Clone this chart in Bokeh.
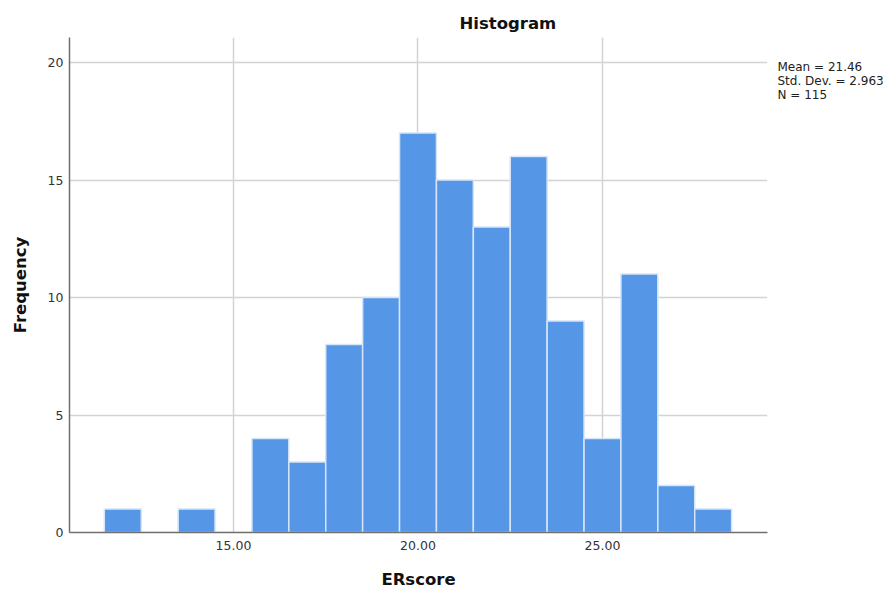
from bokeh.plotting import figure
from bokeh.models import Range1d, FixedTicker, NumeralTickFormatter, LinearAxis
from bokeh.embed import file_html
from bokeh.resources import INLINE

# ---- data ----
bin_lefts = [11.5, 12.5, 13.5, 14.5, 15.5, 16.5, 17.5, 18.5, 19.5, 20.5,
             21.5, 22.5, 23.5, 24.5, 25.5, 26.5, 27.5]
counts = [1, 0, 1, 0, 4, 3, 8, 10, 17, 15, 13, 16, 9, 4, 11, 2, 1]
bin_width = 1.0
x_ticks = [15, 20, 25]
y_ticks = [0, 5, 10, 15, 20]
stat_lines = ["Mean = 21.46", "Std. Dev. = 2.963", "N = 115"]
title_text = "Histogram"
x_label = "ERscore"
y_label = "Frequency"

X_LO, X_HI = 10.556, 29.472
Y_LO, Y_HI = 0.0, 21.064

FONT = "DejaVu Sans"
W, H = 893, 592
BL, BR, BT, BB = 69, 126, 37, 60
FH = H - BT - BB
px_y = FH / (Y_HI - Y_LO)

p = figure(width=W, height=H, output_backend="svg", toolbar_location=None,
           title=title_text,
           x_range=Range1d(X_LO, X_HI), y_range=Range1d(Y_LO, Y_HI),
           min_border_left=BL, min_border_right=BR, min_border_top=BT,
           min_border_bottom=BB)
p.outline_line_color = None
p.background_fill_color = "white"
p.border_fill_color = "white"

# grid
p.xgrid.ticker = FixedTicker(ticks=x_ticks)
p.ygrid.ticker = FixedTicker(ticks=y_ticks)
for g in (p.xgrid, p.ygrid):
    g.grid_line_color = "#d3d3d3"
    g.grid_line_width = 1.5

# bars
rights = [b + bin_width for b in bin_lefts]
p.quad(left=bin_lefts, right=rights, bottom=0, top=counts,
       fill_color="#5596e6", line_color="#d6e5f8", line_width=1.5)

# axes
for ax in (p.xaxis, p.yaxis):
    ax.axis_line_color = "#707070"
    ax.axis_line_width = 1.5
    ax.major_tick_line_color = None
    ax.minor_tick_line_color = None
    ax.major_tick_out = 0
    ax.major_tick_in = 0
    ax.major_label_text_font = FONT
    ax.major_label_text_font_size = "12.5px"
    ax.major_label_text_color = "#333333"
    ax.axis_label_text_font = FONT
    ax.axis_label_text_font_style = "bold"
    ax.axis_label_text_font_size = "16.5px"
    ax.axis_label_text_color = "#111111"

p.xaxis.ticker = FixedTicker(ticks=x_ticks)
p.xaxis.formatter = NumeralTickFormatter(format="0.00")
p.xaxis.major_label_standoff = 8
p.xaxis.axis_label = x_label
p.xaxis.axis_label_standoff = 17

p.yaxis.ticker = FixedTicker(ticks=y_ticks)
p.yaxis.major_label_standoff = 6
p.yaxis.axis_label = y_label
p.yaxis.axis_label_standoff = 15

# statistics block: an invisible right-hand axis whose labels carry the text
stat_pos = [round(Y_HI - (30 + i * 13.5) / px_y, 4) for i in range(len(stat_lines))]
stats_axis = LinearAxis(ticker=FixedTicker(ticks=stat_pos),
                        major_label_overrides={v: s for v, s in zip(stat_pos, stat_lines)},
                        axis_line_color=None, major_tick_line_color=None,
                        minor_tick_line_color=None, major_tick_out=0, major_tick_in=0,
                        major_label_standoff=10,
                        major_label_text_font=FONT, major_label_text_font_size="12px",
                        major_label_text_color="#222222")
p.add_layout(stats_axis, "right")

# title
p.title.align = "left"
p.title.offset = 390
p.title.standoff = 10
p.title.text_font = FONT
p.title.text_font_style = "bold"
p.title.text_font_size = "16.5px"
p.title.text_color = "#111111"

open("out.html", "w").write(file_html(p, INLINE))
